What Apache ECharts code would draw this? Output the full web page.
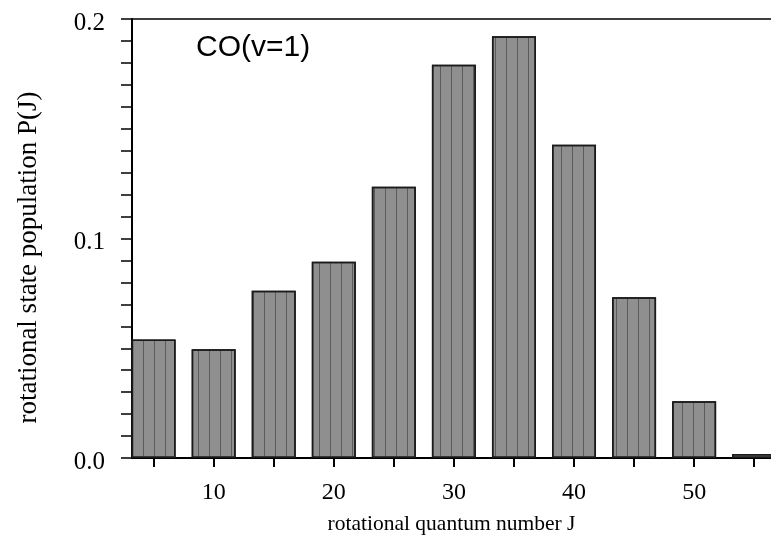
<!DOCTYPE html>
<html>
<head>
<meta charset="utf-8">
<script src="https://cdn.jsdelivr.net/npm/echarts@6/dist/echarts.min.js"></script>
<style>
html,body{margin:0;padding:0;background:#fff;}
#chart{width:771px;height:540px;}
</style>
</head>
<body>
<div id="chart"></div>
<script>
// Data
var jValues = [5, 10, 15, 20, 25, 30, 35, 40, 45, 50, 55];
var population = [0.054, 0.0495, 0.0762, 0.0894, 0.1236, 0.1792, 0.1921, 0.1427, 0.0732, 0.0259, 0.0018];
var xTickValues = [5, 10, 15, 20, 25, 30, 35, 40, 45, 50, 55];
var xLabelValues = [10, 20, 30, 40, 50];
var yLabelValues = [0.0, 0.1, 0.2];
var title = 'CO(v=1)';

var chart = echarts.init(document.getElementById('chart'), null, {renderer: 'canvas'});
var serif = '"Liberation Serif", "Times New Roman", serif';
var data = jValues.map(function (j, i) { return [j, population[i]]; });

chart.setOption({
  animation: false,
  backgroundColor: '#fff',
  grid: {left: 132, right: 0, top: 19, bottom: 82},
  title: {
    text: title, left: 191, top: 28,
    textStyle: {fontFamily: '"Liberation Sans", Arial, sans-serif', fontSize: 30, fontWeight: 'normal', color: '#000'}
  },
  xAxis: [{
    type: 'value', min: 3.2, max: 56.4, position: 'bottom',
    splitLine: {show: false},
    axisLine: {show: true, lineStyle: {color: '#000', width: 2}},
    axisTick: {show: true, inside: false, length: 9, customValues: xTickValues, lineStyle: {color: '#000', width: 2}},
    axisLabel: {customValues: xLabelValues, margin: 23, fontFamily: serif, fontSize: 24, color: '#000'},
    name: 'rotational quantum number J', nameLocation: 'middle', nameGap: 55,
    nameTextStyle: {fontFamily: serif, fontSize: 21.5, color: '#000'}
  }, {
    type: 'value', min: 3.2, max: 56.4, position: 'top',
    splitLine: {show: false},
    axisLine: {show: true, lineStyle: {color: '#000', width: 1.5}},
    axisTick: {show: false}, axisLabel: {show: false}
  }],
  yAxis: {
    type: 'value', min: 0, max: 0.2, interval: 0.01,
    splitLine: {show: false},
    axisLine: {show: true, lineStyle: {color: '#000', width: 2}},
    axisTick: {show: true, inside: false, length: 11, lineStyle: {color: '#000', width: 1.5}},
    axisLabel: {
      margin: 27, color: '#000',
      formatter: function (v) {
        for (var i = 0; i < yLabelValues.length; i++) {
          if (Math.abs(v - yLabelValues[i]) < 1e-6) return '{v|' + yLabelValues[i].toFixed(1) + '}';
        }
        return '';
      },
      rich: {v: {fontFamily: serif, fontSize: 25, color: '#000', padding: [8, 0, 0, 0]}}
    },
    name: 'rotational state population P(J)', nameLocation: 'middle', nameGap: 90,
    nameTextStyle: {fontFamily: serif, fontSize: 27, color: '#000', padding: [0, 38, 0, 0]}
  },
  series: [{
    type: 'bar', xAxisIndex: 0, data: data, barWidth: 44,
    itemStyle: {
      color: '#8f8f8f', borderColor: '#1a1a1a', borderWidth: 1.5,
      decal: {symbol: 'rect', symbolSize: 1, color: 'rgba(50,50,50,0.55)', dashArrayX: [[1, 10]], dashArrayY: [4, 0], rotation: 0}
    }
  }]
});
</script>
</body>
</html>
